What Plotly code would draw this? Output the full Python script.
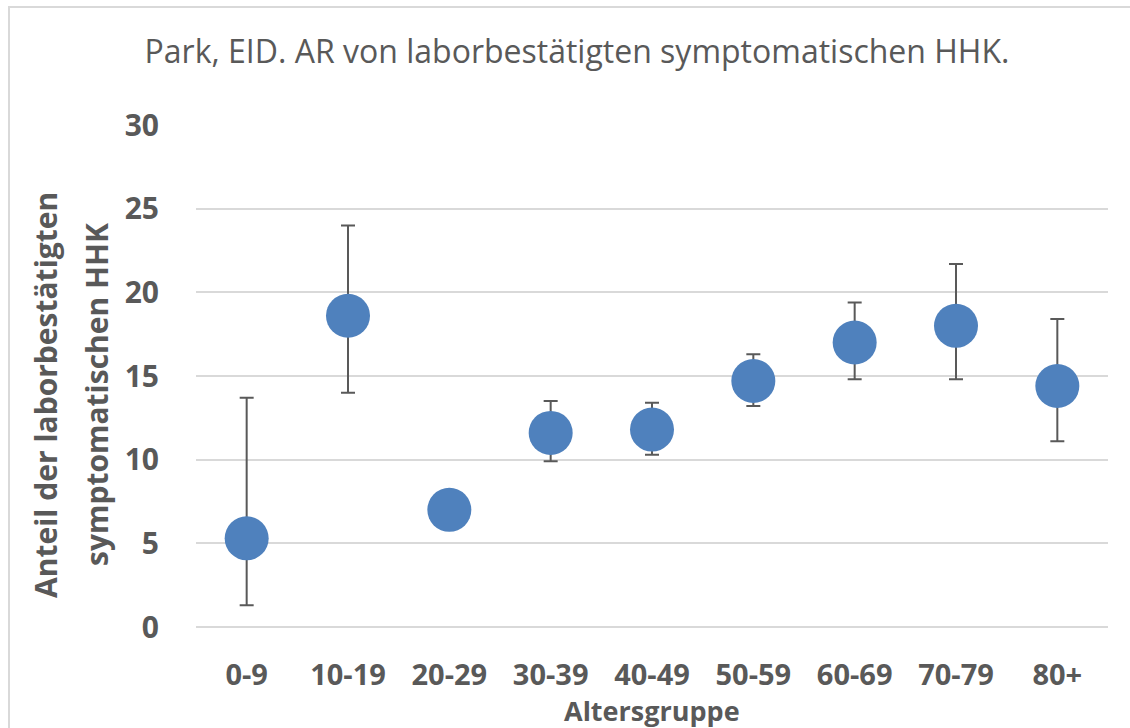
import plotly.graph_objects as go

categories = ["0-9", "10-19", "20-29", "30-39", "40-49", "50-59", "60-69", "70-79", "80+"]
values = [5.3, 18.6, 7.0, 11.6, 11.8, 14.7, 17.0, 18.0, 14.4]
upper = [13.7, 24.0, 7.0, 13.5, 13.4, 16.3, 19.4, 21.7, 18.4]
lower = [1.3, 14.0, 7.0, 9.9, 10.3, 13.2, 14.8, 14.8, 11.1]
y_ticks = [0, 5, 10, 15, 20, 25, 30]

err_plus = [u - v for u, v in zip(upper, values)]
err_minus = [v - l for v, l in zip(values, lower)]

GREY = "#595959"
FONT = "Open Sans"

fig = go.Figure()
fig.add_trace(go.Scatter(
    x=categories, y=values, mode="markers",
    marker=dict(size=44, color="#4F81BD"),
    error_y=dict(type="data", symmetric=False, array=err_plus, arrayminus=err_minus,
                 color=GREY, thickness=2, width=7),
    showlegend=False,
))

W, H = 1130, 728
L, R, T, B = 196, 22, 124, 101
pw, ph = W - L - R, H - T - B

def px_x(x):
    return (x - L) / pw

def px_y(y):
    return (H - B - y) / ph

bold = dict(size=30, color=GREY, family=FONT, weight="bold")
bold_x = dict(size=29, color=GREY, family=FONT, weight="bold")
bold_t = dict(size=27, color=GREY, family=FONT, weight="bold")

fig.update_layout(
    width=W, height=H,
    margin=dict(l=L, r=R, t=T, b=B, pad=0),
    paper_bgcolor="white", plot_bgcolor="white",
    font=dict(family=FONT, color=GREY),
    title=dict(text="Park, EID. AR von laborbestätigten symptomatischen HHK.",
               x=577 / W, xanchor="center", xref="container", y=1 - 52 / H, yanchor="middle",
               font=dict(size=32, color=GREY, family=FONT)),
    xaxis=dict(
        type="category", categoryorder="array", categoryarray=categories,
        range=[-0.5, len(categories) - 0.5],
        showgrid=False, showline=False, zeroline=False, ticks="",
        tickfont=bold_x,
        ticklabelstandoff=28,
    ),
    yaxis=dict(
        range=[0, 30.06], tickvals=y_ticks,
        showgrid=True, gridcolor="#D9D9D9", gridwidth=2,
        zeroline=True, zerolinecolor="#D9D9D9", zerolinewidth=2,
        showline=False, ticks="",
        tickfont=bold,
        ticklabelstandoff=36,
    ),
    annotations=[
        dict(text="Altersgruppe", xref="paper", yref="paper", x=px_x(652), y=px_y(710),
             xanchor="center", yanchor="middle", showarrow=False, font=bold_t, borderpad=0),
        dict(text="Anteil der laborbestätigten", xref="paper", yref="paper",
             x=px_x(45), y=px_y(395), textangle=-90,
             xanchor="center", yanchor="middle", showarrow=False, font=bold),
        dict(text="symptomatischen HHK", xref="paper", yref="paper",
             x=px_x(96), y=px_y(395), textangle=-90,
             xanchor="center", yanchor="middle", showarrow=False, font=bold),
    ],
    shapes=[
        dict(type="line", xref="paper", yref="paper",
             x0=px_x(9), x1=px_x(9), y0=px_y(6), y1=px_y(H + 5),
             line=dict(color="#D9D9D9", width=2)),
        dict(type="line", xref="paper", yref="paper",
             x0=px_x(8), x1=px_x(W + 5), y0=px_y(7), y1=px_y(7),
             line=dict(color="#D9D9D9", width=2)),
    ],
)

fig.write_html("out.html", config={"displayModeBar": False},
               post_script="document.body.style.margin='0';")
